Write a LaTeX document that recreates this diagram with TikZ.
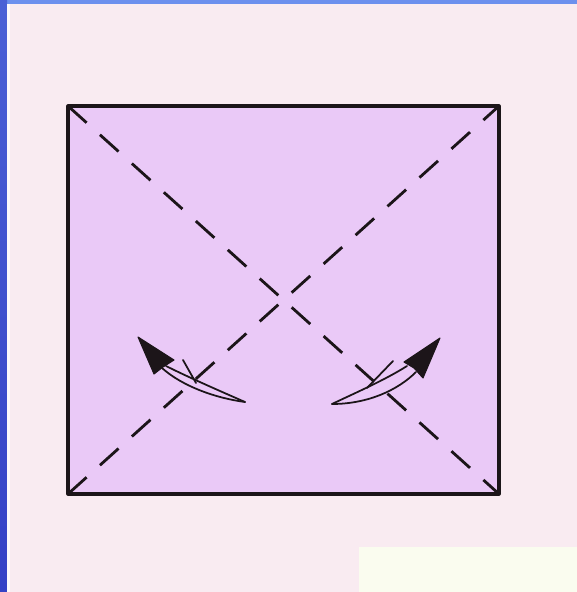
\documentclass[tikz,border=0pt]{standalone}
\usepackage{xcolor}
\usepackage{tikz}
\usetikzlibrary{calc}
\definecolor{slideblue}{HTML}{3442C6}
\definecolor{slidesky}{HTML}{6C90EE}
\definecolor{pagepink}{HTML}{F9EBF1}
\definecolor{paperlilac}{HTML}{EAC9F7}
\definecolor{notecream}{HTML}{FAFCEF}
\definecolor{inkblack}{HTML}{1C1519}

\begin{document}
\begin{tikzpicture}[x=0.02cm, y=-0.02cm, line join=round, line cap=round,
  paper/.style={fill=paperlilac, draw=inkblack, line width=1.8pt},
  crease/.style={draw=inkblack, line width=1.6pt, line cap=butt, dash pattern=on 0.5cm off 0.36cm},
  flipline/.style={draw=inkblack, line width=1pt},
  fliphead/.style={fill=inkblack, draw=inkblack, line width=0.6pt}]
  \useasboundingbox (0,0) rectangle (577,592);
  % slide background
  \fill[pagepink] (0,0) rectangle (577,592);
  \fill[slidesky] (0,0) rectangle (577,4);
  \shade[top color=slideblue!60!slidesky, bottom color=slideblue] (0,0) rectangle (7,592);
  \fill[white!70!pagepink] (7,4) rectangle (10,592);
  \fill[notecream] (359,547) rectangle (577,592);
  % the square sheet
  \coordinate (tl) at (68,106);
  \coordinate (tr) at (499,106);
  \coordinate (br) at (499,494);
  \coordinate (bl) at (68,494);
  \draw[paper] (tl) rectangle (br);
  \draw[crease] (tl) -- (br);
  \draw[crease] (bl) -- (tr);
  % left fold arrow
  \coordinate (ltail) at (245,402);
  \draw[flipline] (ltail) .. controls (220,391) and (190,378) .. (166,366);
  \draw[flipline] (ltail) .. controls (215,398) and (182,386) .. (162,368);
  \draw[fliphead] (138,337) -- (154,374) -- (163,367) -- (174,360) -- cycle;
  \draw[flipline] (183,360) -- (196,383);
  % right fold arrow
  \coordinate (rtail) at (332,404);
  \draw[flipline] (rtail) .. controls (355,393) and (385,380) .. (407,366);
  \draw[flipline] (rtail) .. controls (368,404) and (398,390) .. (416,372);
  \draw[fliphead] (440,338) -- (404,362) -- (414,368) -- (423,378) -- cycle;
  \draw[flipline] (393,361) -- (367,388);
\end{tikzpicture}
\end{document}
